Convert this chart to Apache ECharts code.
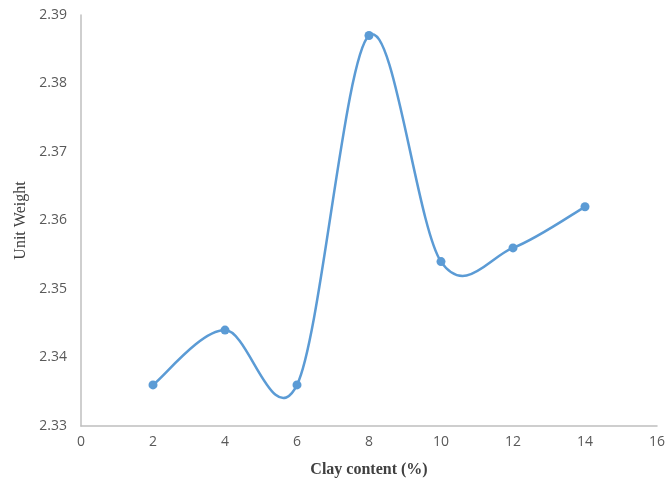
<!DOCTYPE html>
<html>
<head>
<meta charset="utf-8">
<script src="https://cdn.jsdelivr.net/npm/echarts@6/dist/echarts.min.js"></script>
<style>
  html, body { margin: 0; padding: 0; background: #ffffff; }
  #chart { width: 668px; height: 486px; }
</style>
</head>
<body>
<div id="chart"></div>
<script>
// Clay content (%) against unit weight
var clayContent = [2, 4, 6, 8, 10, 12, 14];
var unitWeight = [2.336, 2.344, 2.336, 2.387, 2.354, 2.356, 2.362];

var xAxisRange = { min: 0, max: 16, interval: 2 };
var yAxisRange = { min: 2.33, max: 2.39, interval: 0.01 };

var points = clayContent.map(function (c, i) { return [c, unitWeight[i]]; });

// Each segment i -> i+1 is a cubic Bezier with Catmull-Rom style control
// points, computed in pixel space from the axis coordinates.
function renderSegment(params, api) {
  var i = params.dataIndex;
  var n = points.length;
  if (i >= n - 1) return null;
  var px = points.map(function (p) { return api.coord(p); });
  var p0 = px[Math.max(i - 1, 0)];
  var p1 = px[i];
  var p2 = px[i + 1];
  var p3 = px[Math.min(i + 2, n - 1)];
  var t = 1 / 6;
  return {
    type: 'bezierCurve',
    shape: {
      x1: p1[0], y1: p1[1],
      cpx1: p1[0] + (p2[0] - p0[0]) * t, cpy1: p1[1] + (p2[1] - p0[1]) * t,
      cpx2: p2[0] - (p3[0] - p1[0]) * t, cpy2: p2[1] - (p3[1] - p1[1]) * t,
      x2: p2[0], y2: p2[1]
    },
    style: { stroke: '#5b9bd5', lineWidth: 2.5, fill: null }
  };
}

var chart = echarts.init(document.getElementById('chart'));
chart.setOption({
  animation: false,
  backgroundColor: '#ffffff',
  grid: { left: 81, right: 8, top: 15, bottom: 60 },
  xAxis: {
    type: 'value',
    min: xAxisRange.min, max: xAxisRange.max, interval: xAxisRange.interval,
    name: 'Clay content (%)',
    nameLocation: 'middle',
    nameGap: 36,
    nameTextStyle: { fontFamily: 'Liberation Serif', fontWeight: 'bold', fontSize: 16, color: '#404040' },
    axisLine: { show: true, lineStyle: { color: '#bfbfbf', width: 1.5 } },
    axisTick: { show: false },
    splitLine: { show: false },
    axisLabel: { fontFamily: 'Open Sans', fontSize: 14, color: '#595959', margin: 9 }
  },
  yAxis: {
    type: 'value',
    min: yAxisRange.min, max: yAxisRange.max, interval: yAxisRange.interval,
    name: 'Unit Weight',
    nameLocation: 'middle',
    nameGap: 52,
    nameTextStyle: { fontFamily: 'Liberation Serif', fontSize: 16, color: '#404040' },
    axisLine: { show: true, lineStyle: { color: '#bfbfbf', width: 1.5 } },
    axisTick: { show: false },
    splitLine: { show: false },
    axisLabel: {
      fontFamily: 'Open Sans', fontSize: 14, color: '#595959', margin: 14,
      formatter: function (v) { return v.toFixed(2); }
    }
  },
  series: [{
    type: 'custom',
    data: points,
    renderItem: renderSegment,
    clip: false,
    z: 2
  }, {
    type: 'scatter',
    data: points,
    symbol: 'circle',
    symbolSize: 9,
    itemStyle: { color: '#5b9bd5', opacity: 1 },
    z: 3
  }]
});
</script>
</body>
</html>
